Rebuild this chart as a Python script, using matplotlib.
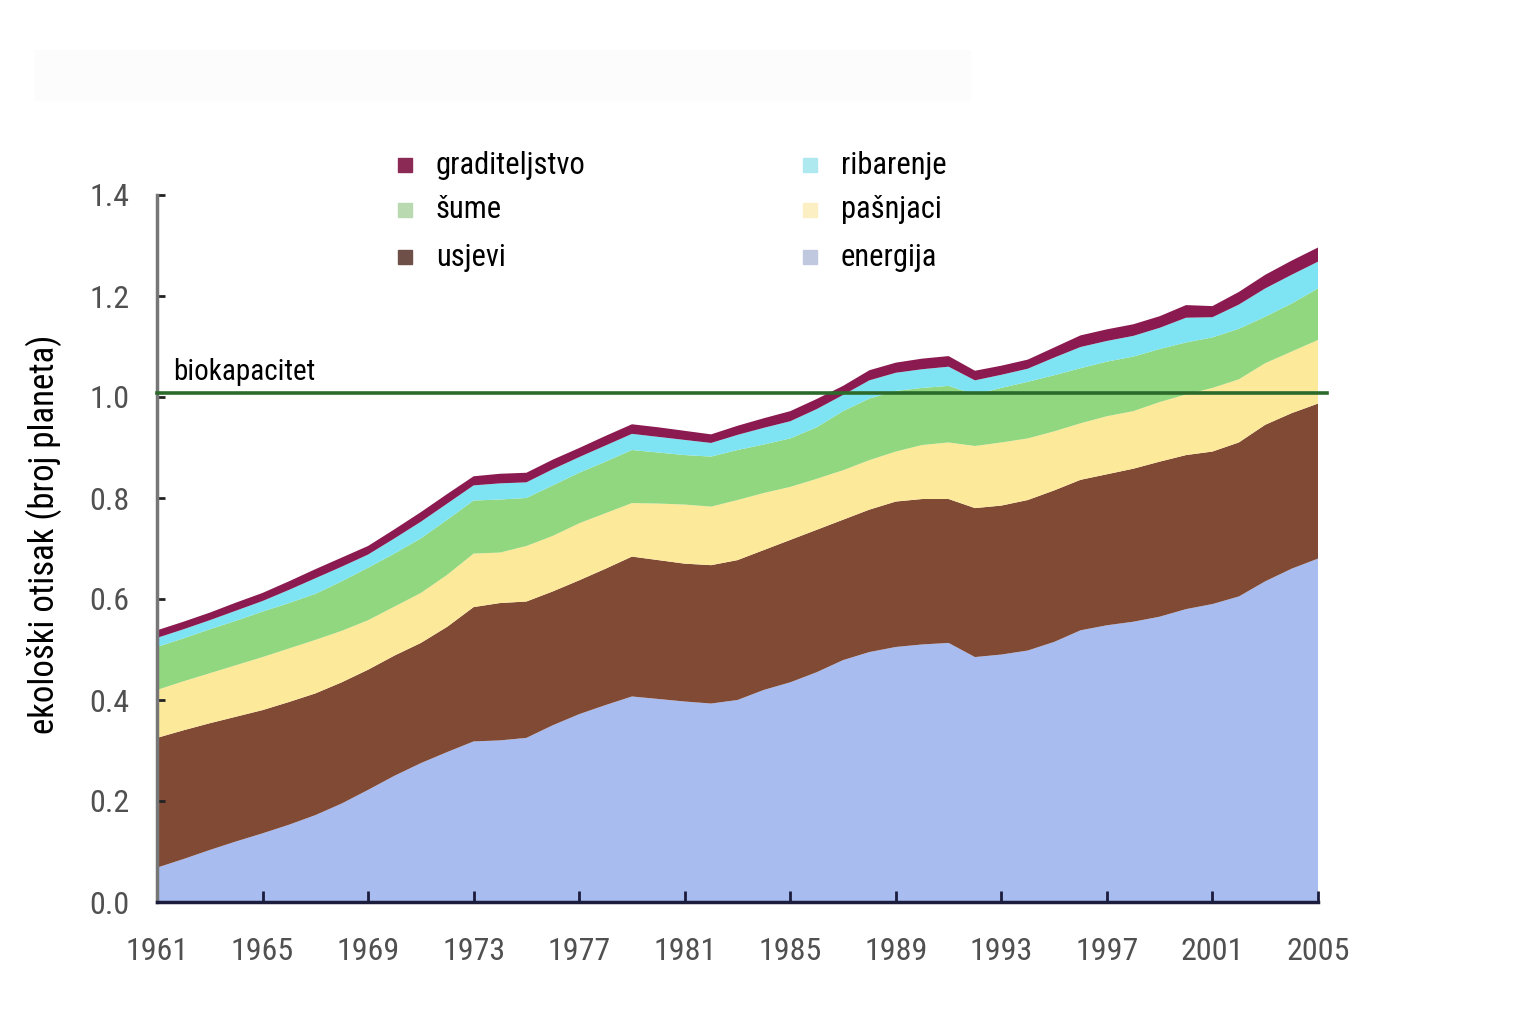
import numpy as np
import matplotlib
matplotlib.use("Agg")
import matplotlib.pyplot as plt
from matplotlib.patches import Rectangle
from matplotlib import font_manager

# Ecological footprint by component, 1961-2005 (number of planets)
years = list(range(1961, 2006))

energija = [0.068, 0.085, 0.103, 0.12, 0.136, 0.153, 0.172, 0.195, 0.222, 0.25,
            0.275, 0.297, 0.318, 0.32, 0.325, 0.35, 0.372, 0.39, 0.407, 0.402,
            0.397, 0.393, 0.4, 0.42, 0.435, 0.455, 0.479, 0.495, 0.505, 0.51,
            0.513, 0.485, 0.49, 0.498, 0.515, 0.538, 0.548, 0.555, 0.565, 0.58,
            0.59, 0.605, 0.635, 0.66, 0.68]
usjevi = [0.257, 0.255, 0.251, 0.247, 0.244, 0.243, 0.241, 0.24, 0.238, 0.238,
          0.238, 0.248, 0.266, 0.272, 0.27, 0.265, 0.265, 0.27, 0.277, 0.275,
          0.273, 0.274, 0.277, 0.277, 0.282, 0.282, 0.278, 0.282, 0.288, 0.288,
          0.285, 0.295, 0.295, 0.298, 0.3, 0.298, 0.299, 0.303, 0.307, 0.305,
          0.302, 0.305, 0.31, 0.308, 0.307]
pasnjaci = [0.095, 0.097, 0.099, 0.102, 0.105, 0.106, 0.106, 0.102, 0.098, 0.097,
            0.099, 0.103, 0.106, 0.1, 0.11, 0.11, 0.113, 0.11, 0.106, 0.112,
            0.117, 0.116, 0.119, 0.113, 0.105, 0.101, 0.098, 0.098, 0.099, 0.107,
            0.112, 0.123, 0.125, 0.122, 0.117, 0.112, 0.115, 0.114, 0.118, 0.12,
            0.126, 0.125, 0.122, 0.122, 0.126]
sume = [0.085, 0.085, 0.087, 0.088, 0.09, 0.09, 0.091, 0.098, 0.104, 0.105,
        0.108, 0.109, 0.105, 0.105, 0.095, 0.1, 0.1, 0.102, 0.105, 0.101,
        0.098, 0.099, 0.099, 0.096, 0.096, 0.102, 0.117, 0.122, 0.12, 0.113,
        0.112, 0.102, 0.108, 0.112, 0.111, 0.109, 0.108, 0.108, 0.105, 0.103,
        0.1, 0.1, 0.092, 0.095, 0.102]
ribarenje = [0.018, 0.018, 0.018, 0.02, 0.021, 0.026, 0.031, 0.029, 0.026, 0.03,
             0.033, 0.032, 0.03, 0.032, 0.031, 0.032, 0.031, 0.032, 0.032, 0.031,
             0.03, 0.027, 0.03, 0.033, 0.034, 0.036, 0.032, 0.036, 0.036, 0.037,
             0.038, 0.028, 0.026, 0.026, 0.035, 0.042, 0.041, 0.041, 0.042, 0.049,
             0.04, 0.048, 0.056, 0.057, 0.053]
graditeljstvo = [0.015, 0.015, 0.015, 0.016, 0.016, 0.017, 0.018, 0.018, 0.017, 0.018,
                 0.019, 0.019, 0.018, 0.019, 0.019, 0.019, 0.018, 0.019, 0.019, 0.019,
                 0.018, 0.017, 0.018, 0.019, 0.02, 0.02, 0.018, 0.02, 0.02, 0.021,
                 0.021, 0.019, 0.018, 0.018, 0.02, 0.023, 0.023, 0.023, 0.023, 0.025,
                 0.022, 0.025, 0.027, 0.028, 0.028]

biokapacitet = 1.007
x_ticks = list(range(1961, 2006, 4))
y_ticks = [0.0, 0.2, 0.4, 0.6, 0.8, 1.0, 1.2, 1.4]

layer_colors = ["#a9bcf0", "#804a35", "#fde99a", "#90d77f", "#7ee3f2", "#8b1a50"]

# legend entries, in the order they appear (column by column)
legend_labels = ["graditeljstvo", "šume", "usjevi", "ribarenje", "pašnjaci", "energija"]
legend_colors = ["#8a2a55", "#b9d9b0", "#6e5048", "#aee9f0", "#fcefc3", "#c0c8e0"]

W, H = 1537, 1014

# a narrow sans for all text, if one is available
names = {f.name for f in font_manager.fontManager.ttflist}
narrow = None
for cand in ["Liberation Sans Narrow", "Arial Narrow", "Roboto Condensed",
             "Open Sans Condensed", "DejaVu Sans Condensed"]:
    if cand in names:
        narrow = cand
        break
if narrow:
    fp = dict(family=[narrow, "DejaVu Sans"])
else:
    fp = dict(family=["DejaVu Sans"], stretch="condensed")

fig = plt.figure(figsize=(W / 100, H / 100), dpi=100)
fig.patch.set_facecolor("white")

# faint grey band at the top of the picture
fig.patches.append(Rectangle((35 / W, 1 - 100 / H), 935 / W, 50 / H,
                             transform=fig.transFigure, color="#fcfcfc", zorder=0))

ax = fig.add_axes([157 / W, 1 - 902 / H, 1161 / W, 707 / H])

ax.stackplot(years, energija, usjevi, pasnjaci, sume, ribarenje, graditeljstvo,
             colors=layer_colors, linewidth=0)

ax.plot([1961, 2005.35], [biokapacitet, biokapacitet], color="#2b6a2b", lw=2.6,
        clip_on=False, zorder=5)
ax.text(1961.6, biokapacitet + 0.015, "biokapacitet", fontsize=21,
        va="bottom", ha="left", color="black", **fp)

ax.set_xlim(1961, 2005)
ax.set_ylim(0, 1.4)
ax.set_xticks(x_ticks)
ax.set_xticklabels([str(y) for y in x_ticks])
ax.set_yticks(y_ticks)
ax.set_yticklabels(["%.1f" % v for v in y_ticks])

for s in ["top", "right"]:
    ax.spines[s].set_visible(False)
ax.spines["left"].set_color("#777777")
ax.spines["left"].set_linewidth(2.5)
ax.spines["bottom"].set_color("#1c1c3c")
ax.spines["bottom"].set_linewidth(2.5)

ax.tick_params(axis="x", direction="in", length=8, width=2, color="#1c1c3c", pad=25,
               labelsize=23, labelcolor="#505050")
ax.tick_params(axis="y", direction="in", length=6, width=2, color="#222222", pad=20,
               labelsize=23, labelcolor="#505050")
for lab in ax.get_xticklabels() + ax.get_yticklabels():
    lab.set_family(fp["family"])
    if "stretch" in fp:
        lab.set_stretch(fp["stretch"])

ax.set_ylabel("ekološki otisak (broj planeta)", fontsize=25, **fp)
ax.yaxis.set_label_coords(-95 / 1161, 0.52)

# hand placed legend: two columns of three
col_x = [405, 810]
row_y = [165, 210, 257]
for i, (lab, col) in enumerate(zip(legend_labels, legend_colors)):
    cx = col_x[i // 3]
    cy = row_y[i % 3]
    fig.patches.append(Rectangle(((cx - 7) / W, 1 - (cy + 7) / H), 14 / W, 14 / H,
                                 transform=fig.transFigure, color=col))
    fig.text((cx + 31) / W, 1 - cy / H, lab, fontsize=22,
             va="center", ha="left", **fp)

fig.savefig("out.png", dpi=100)
